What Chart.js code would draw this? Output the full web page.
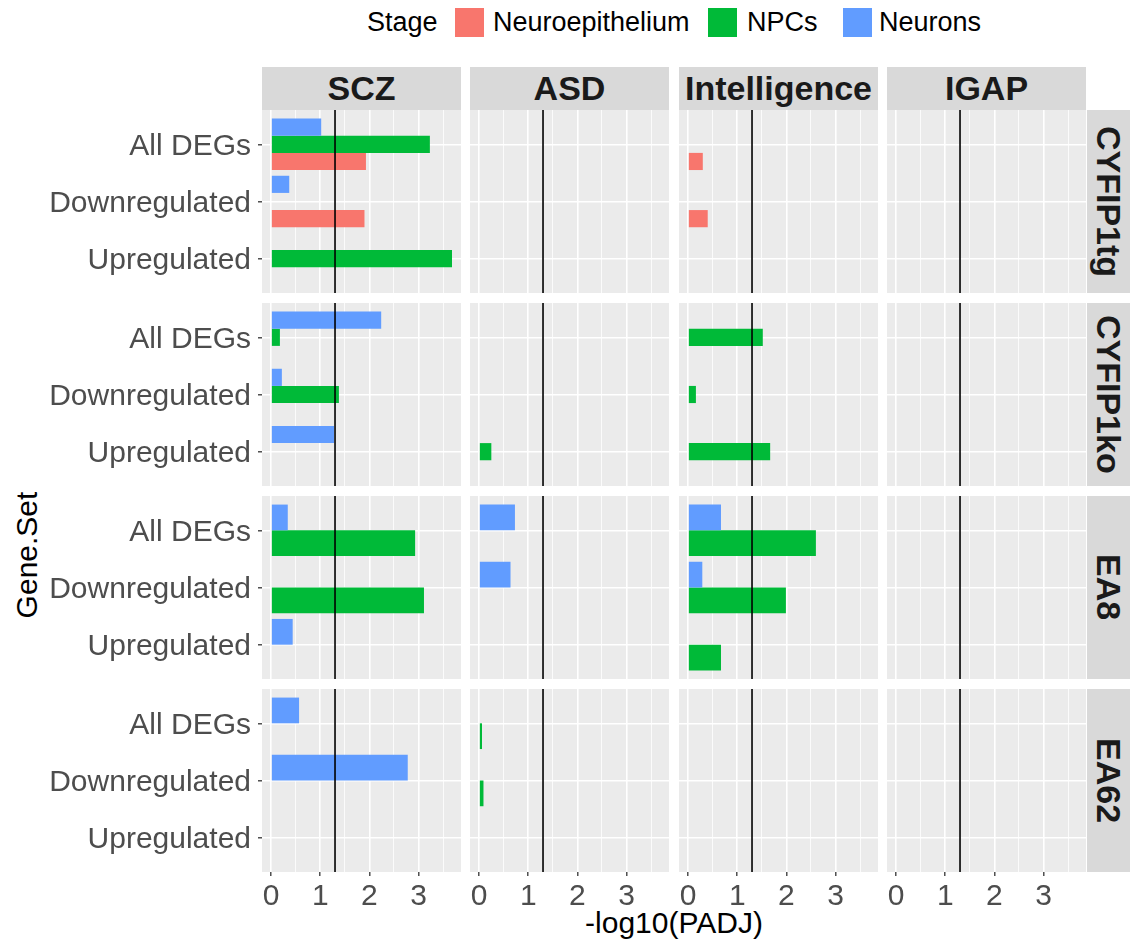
<!DOCTYPE html>
<html><head><meta charset="utf-8">
<script src="https://cdn.jsdelivr.net/npm/chart.js@4.4.0/dist/chart.umd.min.js"></script>
<style>
body{margin:0;background:#fff;width:1130px;height:942px;position:relative;overflow:hidden;font-family:"Liberation Sans",Arial,sans-serif;}
.strip{position:absolute;background:#D9D9D9;color:#1A1A1A;font-weight:bold;font-size:34px;display:flex;align-items:center;justify-content:center;white-space:nowrap;}
.vtext{writing-mode:vertical-rl;}
.lg{position:absolute;font-size:27px;color:#000;line-height:30px;top:7px;white-space:nowrap;}
.key{position:absolute;top:8px;width:29px;height:29px;}
</style></head><body>
<div id="root"></div>
<script>
// ---------- data ----------
const gwasSets = ['SCZ', 'ASD', 'Intelligence', 'IGAP'];
const models = ['CYFIP1tg', 'CYFIP1ko', 'EA8', 'EA62'];
const geneSets = ['All DEGs', 'Downregulated', 'Upregulated'];
const stages = ['Neuroepithelium', 'NPCs', 'Neurons'];
const stageColors = ['#F8766D', '#00BA38', '#619CFF'];
const xTickValues = [0, 1, 2, 3];
const padjThreshold = 1.30103; // -log10(0.05)

// -log10(PADJ); one inner list per GWAS set (SCZ, ASD, Intelligence, IGAP),
// each = [All DEGs, Downregulated, Upregulated]; null = no bar
const CYFIP1tg_Neuroepithelium = [[1.93, 1.90, null], [null, null, null], [0.30, 0.40, null], [null, null, null]];
const CYFIP1tg_NPCs            = [[3.23, null, 3.68], [null, null, null], [null, null, null], [null, null, null]];
const CYFIP1tg_Neurons         = [[1.02, 0.37, null], [null, null, null], [null, null, null], [null, null, null]];

const CYFIP1ko_Neuroepithelium = [[null, null, null], [null, null, null], [null, null, null], [null, null, null]];
const CYFIP1ko_NPCs            = [[0.18, 1.38, null], [null, null, 0.25], [1.52, 0.16, 1.67], [null, null, null]];
const CYFIP1ko_Neurons         = [[2.24, 0.22, 1.28], [null, null, null], [null, null, null], [null, null, null]];

const EA8_NPCs    = [[2.93, 3.11, null], [null, null, null], [2.60, 1.99, 0.67], [null, null, null]];
const EA8_Neurons = [[0.34, null, 0.44], [0.73, 0.64, null], [0.67, 0.29, null], [null, null, null]];

const EA62_NPCs    = [[null, null, null], [0.06, 0.09, null], [null, null, null], [null, null, null]];
const EA62_Neurons = [[0.57, 2.78, null], [null, null, null], [null, null, null], [null, null, null]];

// stages present in each model (per-panel dodge groups)
const modelStages = {
  CYFIP1tg: { Neuroepithelium: CYFIP1tg_Neuroepithelium, NPCs: CYFIP1tg_NPCs, Neurons: CYFIP1tg_Neurons },
  CYFIP1ko: { Neuroepithelium: CYFIP1ko_Neuroepithelium, NPCs: CYFIP1ko_NPCs, Neurons: CYFIP1ko_Neurons },
  EA8:      { NPCs: EA8_NPCs, Neurons: EA8_Neurons },
  EA62:     { NPCs: EA62_NPCs, Neurons: EA62_Neurons }
};

// ---------- layout ----------
const FONT = '"Liberation Sans", Arial, sans-serif';
const P_LEFT = 262, P_TOP = 110, P_W = 199, P_H = 183, COL_STEP = 208.3, ROW_STEP = 192.9;
const Y_AXIS_W = 262, X_AXIS_H = 45;
const root = document.getElementById('root');

function addEl(html){ const d=document.createElement('div'); d.innerHTML=html; root.appendChild(d.firstElementChild); }
addEl('<div class="lg" style="left:367px">Stage</div>');
const legendKeyX = [455, 708, 843], legendTextX = [493, 747, 879];
stages.forEach((s, i) => {
  addEl(`<div class="key" style="left:${legendKeyX[i]}px;background:${stageColors[i]}"></div>`);
  addEl(`<div class="lg" style="left:${legendTextX[i]}px">${s}</div>`);
});

gwasSets.forEach((g, c) => {
  const l = Math.round(P_LEFT + c * COL_STEP);
  addEl(`<div class="strip" style="left:${l}px;top:67px;width:${P_W}px;height:43px">${g}</div>`);
});
models.forEach((m, r) => {
  const t = Math.round(P_TOP + r * ROW_STEP);
  addEl(`<div class="strip" style="left:1087px;top:${t}px;width:43px;height:${P_H}px"><span class="vtext">${m}</span></div>`);
});

addEl('<div style="position:absolute;left:0;width:1130px;text-align:center;top:906px;font-size:30px;color:#000;padding-left:218px;box-sizing:border-box;">-log10(PADJ)</div>');
addEl('<div style="position:absolute;left:27px;top:555px;font-size:30px;color:#000;transform:translate(-50%,-50%) rotate(-90deg);white-space:nowrap;">Gene.Set</div>');

const panelBg = {
  id: 'panelBg',
  beforeDraw(chart) {
    const { ctx, chartArea: a } = chart;
    ctx.save(); ctx.fillStyle = '#EBEBEB';
    ctx.fillRect(a.left, a.top, a.right - a.left, a.bottom - a.top);
    ctx.restore();
  }
};
const thresholdLine = {
  id: 'thresholdLine',
  afterDatasetsDraw(chart) {
    const { ctx, chartArea: a, scales: { x } } = chart;
    const px = x.getPixelForValue(padjThreshold);
    ctx.save(); ctx.strokeStyle = '#000'; ctx.lineWidth = 1.6;
    ctx.beginPath(); ctx.moveTo(px, a.top); ctx.lineTo(px, a.bottom); ctx.stroke();
    ctx.restore();
  }
};

const xGridValues = [0, 0.5, 1, 1.5, 2, 2.5, 3, 3.5];
const isMajor = v => xTickValues.includes(v);
const noPad = s => { s.paddingTop = 0; s.paddingBottom = 0; s.paddingLeft = 0; s.paddingRight = 0; };

function makePanel(r, c) {
  const isLeft = c === 0, isBottom = r === models.length - 1;
  const axisW = isLeft ? Y_AXIS_W : 0, axisH = isBottom ? X_AXIS_H : 0;
  const left = Math.round(P_LEFT + c * COL_STEP) - axisW;
  const top = Math.round(P_TOP + r * ROW_STEP);
  const w = P_W + axisW, h = P_H + axisH;
  const cv = document.createElement('canvas');
  cv.width = w; cv.height = h;
  cv.style.cssText = `position:absolute;left:${left}px;top:${top}px;width:${w}px;height:${h}px`;
  root.appendChild(cv);

  const model = models[r];
  const present = stages.filter(s => modelStages[model][s]);
  const datasets = present.slice().reverse().map(s => ({
    label: s,
    backgroundColor: stageColors[stages.indexOf(s)],
    borderWidth: 0,
    data: geneSets.map((g, gi) => ({ y: geneSets.length - gi, x: modelStages[model][s][c][gi] }))
  }));

  new Chart(cv, {
    type: 'bar',
    data: { datasets },
    plugins: [panelBg, thresholdLine],
    options: {
      indexAxis: 'y', responsive: false, animation: false,
      layout: { padding: 0, autoPadding: false },
      plugins: { legend: { display: false }, tooltip: { enabled: false } },
      datasets: { bar: { categoryPercentage: 0.9, barPercentage: 1.0 } },
      scales: {
        x: {
          type: 'linear', position: 'bottom', min: -0.184, max: 3.863, offset: false,
          afterBuildTicks: s => { s.ticks = xGridValues.map(v => ({ value: v })); },
          afterFit: s => { s.height = axisH; noPad(s); },
          border: { display: false },
          grid: {
            offset: false, color: '#FFFFFF',
            lineWidth: ctx => (ctx.tick && isMajor(ctx.tick.value)) ? 1.6 : 0.8,
            drawTicks: isBottom, tickLength: 4, tickWidth: 1.3,
            tickColor: ctx => (ctx.tick && isMajor(ctx.tick.value)) ? '#333333' : 'rgba(0,0,0,0)'
          },
          ticks: {
            display: isBottom, autoSkip: false, maxRotation: 0, minRotation: 0, padding: 3,
            color: '#4D4D4D', font: { family: FONT, size: 30 },
            callback: v => isMajor(v) ? String(v) : ''
          }
        },
        y: {
          type: 'linear', position: 'left', min: 0.4, max: 3.6, offset: false,
          afterBuildTicks: s => { s.ticks = geneSets.map((g, gi) => ({ value: geneSets.length - gi })); },
          afterFit: s => { s.width = axisW; noPad(s); },
          border: { display: false },
          grid: {
            offset: false, color: '#FFFFFF', lineWidth: 1.6,
            drawTicks: isLeft, tickLength: 4, tickWidth: 1.3, tickColor: '#333333'
          },
          ticks: {
            display: isLeft, autoSkip: false, padding: 7, labelOffset: 2,
            color: '#4D4D4D', font: { family: FONT, size: 30 },
            callback: v => geneSets[geneSets.length - v]
          }
        }
      }
    }
  });
}

for (let r = 0; r < models.length; r++)
  for (let c = 0; c < gwasSets.length; c++) makePanel(r, c);
</script>
</body></html>
